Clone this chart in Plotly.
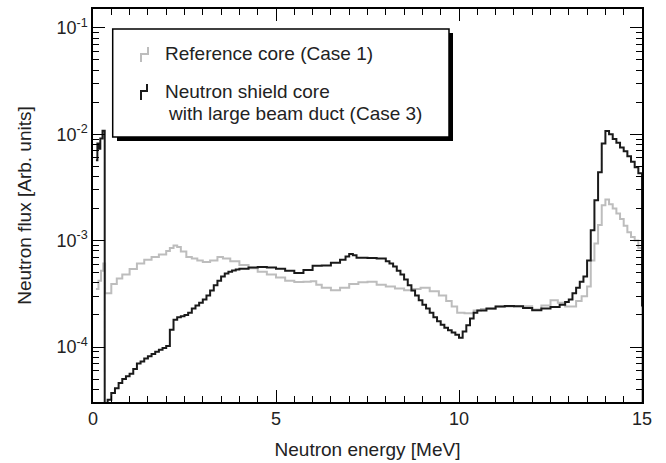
import plotly.graph_objects as go

# ---------------- data ----------------
energy_case1 = [0.08, 0.15, 0.22, 0.28, 0.33, 0.5, 0.65, 0.8, 1.0, 1.2, 1.4, 1.6, 1.8, 2.0, 2.1, 2.2,
                2.3, 2.4, 2.55, 2.7, 2.85, 3.0, 3.2, 3.4, 3.55, 3.75, 4.0, 4.25, 4.5, 4.75, 5.0,
                5.25, 5.5, 5.75, 5.95, 6.1, 6.25, 6.5, 6.75, 7.0, 7.25, 7.5, 7.75, 8.0, 8.25, 8.5,
                8.75, 8.95, 9.2, 9.45, 9.65, 9.8, 9.95, 10.15, 10.4, 10.6, 11.0, 11.5, 12.0, 12.25,
                12.5, 12.7, 12.9, 13.05, 13.2, 13.35, 13.5, 13.6, 13.7, 13.8, 13.9, 14.0, 14.1,
                14.2, 14.3, 14.4, 14.5, 14.6, 14.7, 14.8, 14.9, 15.0]
flux_case1 = [3.5e-4, 4.2e-4, 5.2e-4, 6.1e-4, 3.2e-4, 3.9e-4, 4.4e-4, 4.8e-4, 5.4e-4, 6.1e-4, 6.6e-4,
              7.0e-4, 7.4e-4, 8.0e-4, 8.5e-4, 9.0e-4, 8.7e-4, 7.9e-4, 7.0e-4, 6.8e-4, 6.5e-4, 6.3e-4,
              6.5e-4, 7.0e-4, 6.8e-4, 6.4e-4, 5.9e-4, 5.5e-4, 5.1e-4, 4.8e-4, 4.5e-4, 4.2e-4, 4.08e-4,
              4.1e-4, 4.15e-4, 3.85e-4, 3.6e-4, 3.42e-4, 3.6e-4, 3.9e-4, 4.05e-4, 4.1e-4, 3.85e-4,
              3.7e-4, 3.55e-4, 3.42e-4, 3.5e-4, 3.6e-4, 3.35e-4, 3.05e-4, 2.7e-4, 2.4e-4, 2.1e-4,
              2.08e-4, 2.2e-4, 2.28e-4, 2.4e-4, 2.42e-4, 2.25e-4, 2.45e-4, 2.75e-4, 2.6e-4, 2.4e-4,
              2.4e-4, 2.7e-4, 3.0e-4, 3.7e-4, 6.5e-4, 9.4e-4, 1.4e-3, 2.15e-3, 2.43e-3, 2.2e-3,
              2.0e-3, 1.8e-3, 1.6e-3, 1.38e-3, 1.2e-3, 1.08e-3, 1.0e-3, 8.5e-4, 1e-6]

energy_case3 = [0.08, 0.12, 0.16, 0.2, 0.26, 0.32, 0.40, 0.5, 0.6, 0.7, 0.8, 0.9, 1.0, 1.1, 1.2, 1.3,
                1.4, 1.5, 1.6, 1.7, 1.8, 1.9, 2.0, 2.1, 2.2, 2.3, 2.4, 2.5, 2.6, 2.7, 2.8, 2.9, 3.0,
                3.1, 3.2, 3.3, 3.4, 3.5, 3.6, 3.7, 3.8, 3.9, 4.0, 4.25, 4.5, 4.75, 5.0, 5.25, 5.5,
                5.75, 6.0, 6.25, 6.5, 6.75, 6.9, 7.0, 7.1, 7.2, 7.5, 7.75, 8.0, 8.1, 8.2, 8.3, 8.4,
                8.5, 8.6, 8.7, 8.8, 8.9, 9.0, 9.1, 9.2, 9.3, 9.4, 9.5, 9.6, 9.7, 9.8, 9.9, 10.0,
                10.1, 10.2, 10.3, 10.4, 10.5, 10.75, 11.0, 11.25, 11.5, 11.75, 12.0, 12.25, 12.5,
                12.75, 12.9, 13.0, 13.1, 13.2, 13.3, 13.4, 13.5, 13.6, 13.7, 13.8, 13.9, 14.0, 14.1,
                14.2, 14.3, 14.4, 14.5, 14.6, 14.7, 14.8, 14.9, 15.0]
flux_case3 = [5.7e-3, 8.2e-3, 7.3e-3, 9.1e-3, 1.08e-2, 1e-6, 3.2e-5, 3.7e-5, 4.1e-5, 4.6e-5, 5.0e-5,
              5.3e-5, 5.6e-5, 6.2e-5, 7.0e-5, 7.3e-5, 7.8e-5, 8.2e-5, 8.6e-5, 9.0e-5, 9.4e-5, 9.8e-5,
              1.02e-4, 1.45e-4, 1.8e-4, 1.9e-4, 1.95e-4, 2.0e-4, 2.1e-4, 2.3e-4, 2.45e-4, 2.6e-4,
              2.8e-4, 3.05e-4, 3.4e-4, 3.8e-4, 4.2e-4, 4.6e-4, 4.9e-4, 5.1e-4, 5.25e-4, 5.35e-4,
              5.45e-4, 5.6e-4, 5.65e-4, 5.6e-4, 5.45e-4, 5.2e-4, 4.95e-4, 5.3e-4, 5.8e-4, 5.85e-4,
              6.2e-4, 6.6e-4, 7.1e-4, 7.5e-4, 7.3e-4, 6.9e-4, 6.85e-4, 6.8e-4, 6.4e-4, 6.1e-4,
              5.7e-4, 5.2e-4, 4.8e-4, 4.3e-4, 3.8e-4, 3.4e-4, 3.05e-4, 2.75e-4, 2.5e-4, 2.3e-4,
              2.1e-4, 1.9e-4, 1.75e-4, 1.62e-4, 1.52e-4, 1.44e-4, 1.37e-4, 1.3e-4, 1.22e-4, 1.4e-4,
              1.6e-4, 1.85e-4, 2.1e-4, 2.2e-4, 2.3e-4, 2.4e-4, 2.43e-4, 2.42e-4, 2.32e-4, 2.22e-4,
              2.3e-4, 2.38e-4, 2.5e-4, 2.65e-4, 2.8e-4, 3.2e-4, 3.6e-4, 4.1e-4, 4.6e-4, 6.5e-4,
              1.25e-3, 2.4e-3, 4.4e-3, 8.2e-3, 1.07e-2, 1.0e-2, 9.0e-3, 8.3e-3, 7.5e-3, 6.9e-3,
              6.2e-3, 5.5e-3, 4.9e-3, 4.3e-3, 2.4e-4]

x_tick_vals = [0, 5, 10, 15]
x_tick_text = ["0", "5", "10", "15"]
y_tick_vals = [1e-4, 1e-3, 1e-2, 1e-1]
y_tick_text = ["10<sup>-4</sup>", "10<sup>-3</sup>", "10<sup>-2</sup>", "10<sup>-1</sup>"]
legend_labels = ["Reference core (Case 1)", "Neutron shield core", " with large beam duct (Case 3)"]

# ---------------- style / layout ----------------
FONT = "Liberation Sans, Arial, Helvetica, sans-serif"
W, H = 666, 463
ML, MR, MT, MB = 93, 24, 9, 61
PW, PH = W - ML - MR, H - MT - MB
GRAY = "#bdbdbd"
BLACK = "#1a1a1a"


def px(x):
    return (x - ML) / PW


def py(y):
    return (H - MB - y) / PH


y_minor = [k * 10.0 ** d for d in range(-5, 0) for k in range(2, 10)]

fig = go.Figure()
fig.add_trace(go.Scatter(x=energy_case1, y=flux_case1, mode="lines", line=dict(color=GRAY, width=2, shape="hv"),
                         name=legend_labels[0], showlegend=False))
fig.add_trace(go.Scatter(x=energy_case3, y=flux_case3, mode="lines", line=dict(color=BLACK, width=2, shape="hv"),
                         name=legend_labels[1] + legend_labels[2], showlegend=False))

axis_common = dict(showline=True, linecolor="black", linewidth=1.5, mirror="allticks", ticks="inside",
                   ticklen=12, tickwidth=1.2, tickcolor="black", showgrid=False, zeroline=False,
                   tickfont=dict(family=FONT, size=18, color="#222"))

fig.update_xaxes(range=[0, 15], tickmode="array", tickvals=x_tick_vals, ticktext=x_tick_text,
                 minor=dict(ticks="inside", dtick=0.5, tick0=0, ticklen=6, tickwidth=1.2, tickcolor="black"),
                 title=dict(text="Neutron energy [MeV]", font=dict(family=FONT, size=19, color="#222"), standoff=14),
                 **axis_common)
fig.update_yaxes(type="log", range=[-4.517, -0.823], tickmode="array", tickvals=y_tick_vals, ticktext=y_tick_text,
                 minor=dict(ticks="inside", tickvals=y_minor, ticklen=6, tickwidth=1.2, tickcolor="black"),
                 title=dict(text="Neutron flux [Arb. units]", font=dict(family=FONT, size=19, color="#222"), standoff=20),
                 **axis_common)

shapes = []
# legend shadow and box
shapes.append(dict(type="rect", xref="paper", yref="paper", x0=px(117), x1=px(453), y0=py(141), y1=py(33),
                   fillcolor="black", line=dict(width=0), layer="above"))
shapes.append(dict(type="rect", xref="paper", yref="paper", x0=px(112.7), x1=px(449), y0=py(137), y1=py(29),
                   fillcolor="white", line=dict(color="black", width=1.5), layer="above"))


def glyph(x0, x1, yt, ym, yb, color):
    path = (f"M {px(x0)} {py(yb)} L {px(x0)} {py(ym)} L {px(x1)} {py(ym)} L {px(x1)} {py(yt)}")
    return dict(type="path", xref="paper", yref="paper", path=path, line=dict(color=color, width=2), layer="above")


shapes.append(glyph(141, 148, 47, 54, 62, GRAY))
shapes.append(glyph(141, 147, 84, 91, 100, BLACK))

annotations = [
    dict(text=legend_labels[0], x=px(163), y=py(53), xref="paper", yref="paper", xanchor="left", yanchor="middle",
         showarrow=False, font=dict(family=FONT, size=19, color="#222")),
    dict(text=legend_labels[1], x=px(163), y=py(92), xref="paper", yref="paper", xanchor="left", yanchor="middle",
         showarrow=False, font=dict(family=FONT, size=19, color="#222")),
    dict(text=legend_labels[2].strip(), x=px(166), y=py(113), xref="paper", yref="paper", xanchor="left",
         yanchor="middle", showarrow=False, font=dict(family=FONT, size=19, color="#222")),
]

fig.update_layout(width=W, height=H, margin=dict(l=ML, r=MR, t=MT, b=MB, autoexpand=False),
                  paper_bgcolor="white", plot_bgcolor="white", showlegend=False,
                  shapes=shapes, annotations=annotations, font=dict(family=FONT))

fig.write_html("out.html")
